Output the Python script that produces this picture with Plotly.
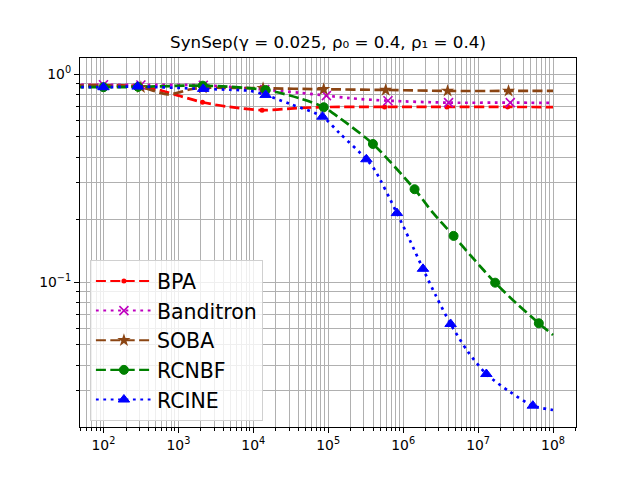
import plotly.graph_objects as go

# ---------------- data ----------------
title_text = "SynSep(γ = 0.025, ρ₀ = 0.4, ρ₁ = 0.4)"
series_names = ["BPA", "Banditron", "SOBA", "RCNBF", "RCINE"]

# BPA
bpa_mark_x = [316, 2100, 13100, 87000, 5.66e5, 3.84e6, 2.49e7]
bpa_mark_y = [0.875, 0.733, 0.672, 0.695, 0.696, 0.696, 0.696]
bpa_line_x = [40, 100, 620, 1050, 4860, 41700, 1e8]
bpa_line_y = [0.885, 0.885, 0.831, 0.786, 0.696, 0.688, 0.695]

# Banditron
ban_mark_x = [100, 316, 2150, 14200, 94600, 6.27e5, 4.04e6, 2.69e7]
ban_mark_y = [0.89, 0.888, 0.885, 0.843, 0.789, 0.746, 0.730, 0.730]
ban_line_x = [40, 41700, 1.94e5, 1e8]
ban_line_y = [0.89, 0.815, 0.767, 0.728]

# SOBA
soba_mark_x = [316, 2120, 13500, 87000, 5.85e5, 3.92e6, 2.55e7]
soba_mark_y = [0.866, 0.859, 0.856, 0.847, 0.840, 0.831, 0.831]
soba_line_x = [40, 100, 725, 1470, 1e8]
soba_line_y = [0.88, 0.88, 0.80, 0.847, 0.831]

# RCNBF
rcnbf_mark_x = [100, 290, 2120, 14600, 87100, 3.95e5, 1.42e6, 4.71e6, 1.69e7, 6.47e7]
rcnbf_mark_y = [0.866, 0.869, 0.881, 0.840, 0.694, 0.462, 0.280, 0.167, 0.0995, 0.0635]
rcnbf_line_x = [40, 41700, 1.42e5, 2.49e6, 8.97e6, 3.23e7, 1e8]
rcnbf_line_y = [0.868, 0.765, 0.616, 0.216, 0.128, 0.0793, 0.0558]

# RCINE
rcine_mark_x = [100, 286, 2140, 14600, 83800, 3.23e5, 8.26e5, 1.84e6, 4.3e6, 1.29e7, 5.38e7]
rcine_mark_y = [0.866, 0.872, 0.85, 0.795, 0.625, 0.390, 0.215, 0.116, 0.063, 0.0362, 0.0255]
rcine_line_x = [40, 4860, 8970, 30700, 1.42e5, 4.17e5, 1.22e6, 2.77e6, 7.31e6, 2.63e7, 1e8]
rcine_line_y = [0.868, 0.842, 0.832, 0.72, 0.52, 0.347, 0.160, 0.0853, 0.0464, 0.0298, 0.0243]

x_tick_vals = [1e2, 1e3, 1e4, 1e5, 1e6, 1e7, 1e8]
x_tick_text = ["10<sup>2</sup>", "10<sup>3</sup>", "10<sup>4</sup>", "10<sup>5</sup>",
               "10<sup>6</sup>", "10<sup>7</sup>", "10<sup>8</sup>"]
y_tick_vals = [0.1, 1.0]
y_tick_text = ["10<sup>−1</sup>", "10<sup>0</sup>"]

# ---------------- styling ----------------
FONT = "DejaVu Sans"
LW = 2.7
DASH = "10px,4.4px"
DOT = "2.8px,4.6px"
styles = [
    dict(color="#ff0000", dash=DASH, symbol="circle", size=5, mlw=0),
    dict(color="#bf00bf", dash=DOT, symbol="x-thin", size=9, mlw=1.6),
    dict(color="#8b4513", dash=DASH, symbol="star", size=10, mlw=0),
    dict(color="#008000", dash=DASH, symbol="circle", size=9, mlw=1),
    dict(color="#0000ff", dash=DOT, symbol="triangle-up", size=10, mlw=1),
]
data = [
    (bpa_line_x, bpa_line_y, bpa_mark_x, bpa_mark_y),
    (ban_line_x, ban_line_y, ban_mark_x, ban_mark_y),
    (soba_line_x, soba_line_y, soba_mark_x, soba_mark_y),
    (rcnbf_line_x, rcnbf_line_y, rcnbf_mark_x, rcnbf_mark_y),
    (rcine_line_x, rcine_line_y, rcine_mark_x, rcine_mark_y),
]

fig = go.Figure()
for name, st, (lx, ly, mx, my) in zip(series_names, styles, data):
    pts = sorted(zip(list(lx) + list(mx), list(ly) + list(my)))
    fig.add_trace(go.Scatter(
        x=[p[0] for p in pts], y=[p[1] for p in pts], mode="lines",
        line=dict(color=st["color"], width=LW, dash=st["dash"], shape="spline", smoothing=0.8),
        showlegend=False, hoverinfo="skip"))
    mline = dict(width=st["mlw"], color=st["color"])
    fig.add_trace(go.Scatter(
        x=mx, y=my, mode="markers",
        marker=dict(symbol=st["symbol"], size=st["size"], color=st["color"], line=mline),
        showlegend=False, hoverinfo="skip"))
    fig.add_trace(go.Scatter(
        x=[None], y=[None], mode="lines+markers", name=name,
        line=dict(color=st["color"], width=LW * 0.75, dash=st["dash"]),
        marker=dict(symbol=st["symbol"], size=st["size"], color=st["color"], line=mline)))

minor_x = [k * 10 ** e for e in range(1, 9) for k in range(2, 10)]
minor_y = [k * 10 ** e for e in (-2, -1) for k in range(2, 10)]

axis_common = dict(
    type="log", showline=True, linecolor="black", linewidth=1.1, mirror=True,
    ticks="outside", ticklen=5, tickwidth=1.1, tickcolor="black",
    showgrid=True, gridcolor="#b0b0b0", gridwidth=1.1, zeroline=False,
    tickfont=dict(family=FONT, size=13.9, color="black"),
)
fig.update_xaxes(
    range=[1.687, 8.307], tickmode="array", tickvals=x_tick_vals, ticktext=x_tick_text,
    minor=dict(tickmode="array", tickvals=minor_x, ticks="outside", ticklen=2.8,
               tickwidth=0.8, tickcolor="black", showgrid=True, gridcolor="#b0b0b0",
               gridwidth=1.1),
    **axis_common)
fig.update_yaxes(
    range=[-1.696, 0.078], tickmode="array", tickvals=y_tick_vals, ticktext=y_tick_text,
    minor=dict(tickmode="array", tickvals=minor_y, ticks="outside", ticklen=2.8,
               tickwidth=0.8, tickcolor="black", showgrid=True, gridcolor="#b0b0b0",
               gridwidth=1.1),
    **axis_common)

# the page body has an 8px margin, so the figure is 8px smaller on each axis
fig.update_layout(
    width=632, height=472,
    margin=dict(l=72, r=63.5, t=50, b=53),
    plot_bgcolor="white", paper_bgcolor="white",
    font=dict(family=FONT, color="black"),
    title=dict(text=title_text, x=0.5, xref="paper", xanchor="center",
               y=1 - 34.5 / 472, yref="container", yanchor="middle",
               font=dict(family=FONT, size=16.7, color="black")),
    legend=dict(x=0.02, y=0.016, xanchor="left", yanchor="bottom",
                bgcolor="rgba(255,255,255,0.8)", bordercolor="#d0d0d0", borderwidth=1,
                font=dict(family=FONT, size=20.5, color="black"), itemwidth=56,
                tracegroupgap=0),
    showlegend=True,
)

fig.write_html("out.html")
